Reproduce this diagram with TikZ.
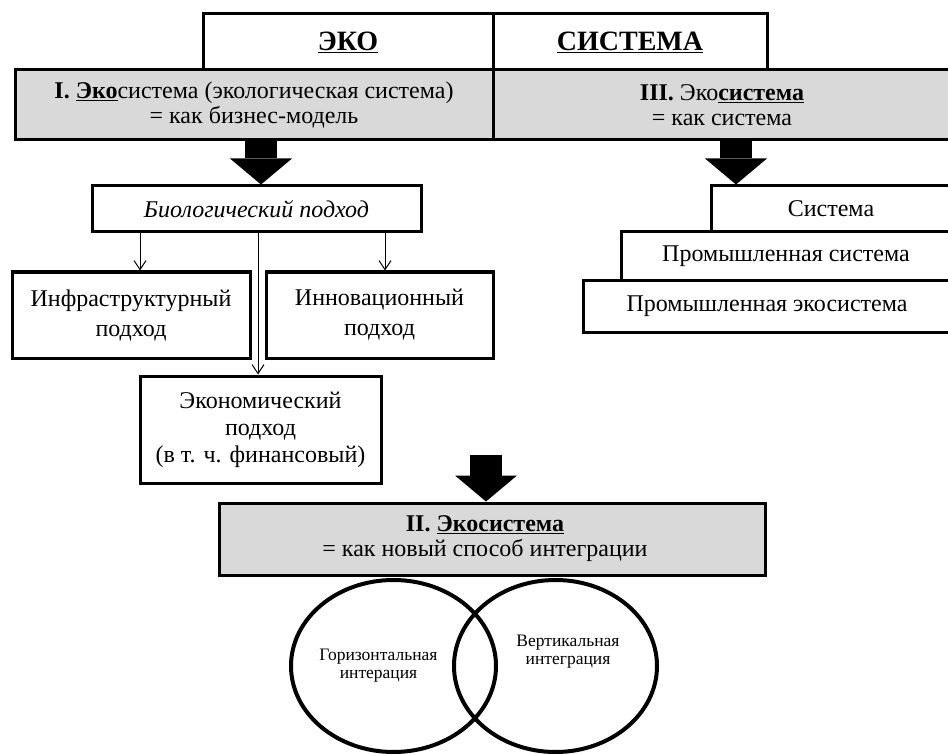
\documentclass[tikz,border=0pt]{standalone}
\usepackage{fontspec}
\setmainfont{Liberation Serif}
\usetikzlibrary{arrows.meta,positioning,shapes.geometric}
\definecolor{bandgray}{HTML}{D9D9D9}

\tikzset{
	frame/.style={draw, line width=3pt, inner sep=0pt, align=center, font=\fontsize{24}{30}\selectfont},
	band/.style={frame, fill=bandgray, font=\fontsize{24}{25}\selectfont},
	bigarrow/.style={line width=32pt, -{Triangle[width=62pt,length=26pt,line width=0pt]}},
	thinarrow/.style={line width=1pt, -{Straight Barb[length=9pt,width=12pt]}},
	ring/.style={draw, ellipse, line width=4pt, inner sep=0pt},
	small/.style={align=center, font=\fontsize{17.5}{18}\selectfont}
}

\begin{document}
\begin{tikzpicture}[x=1pt,y=-1pt]
	\useasboundingbox (0,0) rectangle (948,754);
	
	%title row
	\node[frame, minimum width=290pt, minimum height=56pt, font=\fontsize{28}{30}\selectfont\bfseries] (eko) at (348,42) {\underline{ЭКО}};
	\node[frame, minimum width=274pt, minimum height=56pt, font=\fontsize{28}{30}\selectfont\bfseries] (sistema) at (630,42) {\underline{СИСТЕМА}};
	
	%gray band
	\node[band, minimum width=478pt, minimum height=70pt] (eco1) at (254,105) {\textbf{I. \underline{Эко}}система (экологическая система)\\= как бизнес-модель};
	\node[band, minimum width=458pt, minimum height=70pt] (eco3) at (722,105) {\textbf{III.} Эко\textbf{\underline{система}}\\= как система};
	
	%left branch
	\node[frame, minimum width=329pt, minimum height=46pt, font=\fontsize{24}{30}\selectfont\itshape] (bio) at (256.5,209) {Биологический подход};
	\node[frame, minimum width=238pt, minimum height=86pt] (infra) at (131,315) {Инфраструктурный\\подход};
	\node[frame, minimum width=227pt, minimum height=86pt] (innov) at (379.5,315) {Инновационный\\подход};
	\node[frame, minimum width=241pt, minimum height=107pt, font=\fontsize{24}{27}\selectfont] (econ) at (260.5,429.5) {Экономический\\подход\\(в т. ч. финансовый)};
	
	%right branch, boxes run off the edge
	\node[frame, minimum width=240pt, minimum height=46pt] (sys) at (831,209) {Система};
	\node[frame, minimum width=330pt, minimum height=48pt] (prom) at (786,256) {Промышленная система};
	\node[frame, minimum width=368pt, minimum height=52pt] (promeco) at (767,306) {Промышленная экосистема};
	
	%integration
	\node[band, minimum width=546pt, minimum height=72pt] (integ) at (492,539) {};
	\node[align=center, font=\fontsize{24}{25}\selectfont] (integtxt) at (485,539) {\textbf{II. \underline{Экосистема}}\\= как новый способ интеграции};
	
	\node[ring, minimum width=205pt, minimum height=172pt] (horiz) at (393.5,666) {};
	\node[ring, minimum width=203pt, minimum height=172pt] (vert) at (555.5,666) {};
	\node[small] (horiztxt) at ([xshift=-15pt]horiz.center) {Горизонтальная\\интерация};
	\node[small] (verttxt) at ([xshift=12.5pt,yshift=14pt]vert.center) {Вертикальная\\интеграция};
	
	%big arrows
	\coordinate (axisI) at (261,0);
	\coordinate (axisIII) at (736,0);
	\coordinate (axisII) at (486,455);
	\draw[bigarrow] (eco1.south -| axisI) -- (bio.north -| axisI);
	\draw[bigarrow] (eco3.south -| axisIII) -- (sys.north -| axisIII);
	\draw[bigarrow] (axisII) -- (integ.north -| axisII);
	
	%thin arrows
	\coordinate (tapI) at (140,0);
	\coordinate (tapE) at (258,0);
	\coordinate (tapN) at (385,0);
	\draw[thinarrow] (bio.south -| tapI) -- (infra.north -| tapI);
	\draw[thinarrow] (bio.south -| tapN) -- (innov.north -| tapN);
	\draw[thinarrow] (bio.south -| tapE) -- (econ.north -| tapE);
\end{tikzpicture}
\end{document}
